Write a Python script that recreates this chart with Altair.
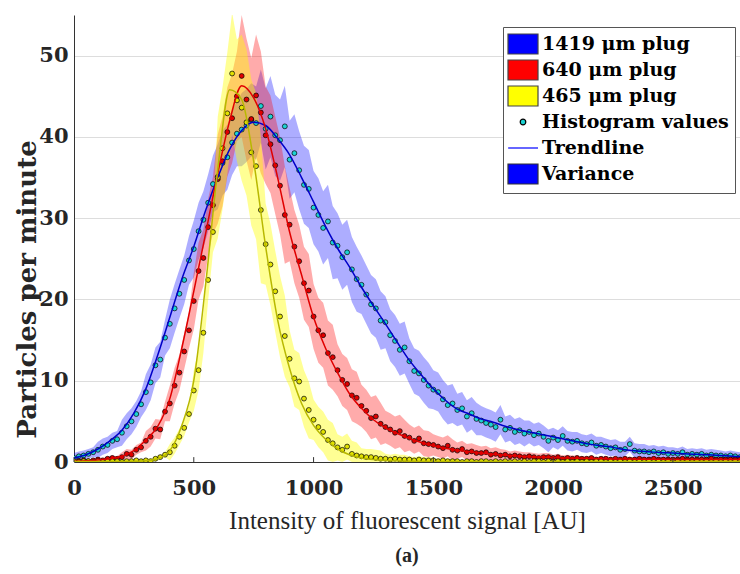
import altair as alt
import pandas as pd

# ---------------- data ----------------
x_hist = list(range(0, 2800, 20))      # histogram bins (AU)
x_trend = list(range(0, 2801, 50))     # trendline sample positions (AU)
x_spread = list(range(0, 2801, 100))   # variance half-width sample positions (AU)

blue_hist = [
    0.5, 0.7, 0.8, 1.0, 1.2,   1.5, 1.9, 2.1, 2.6, 2.8,
    3.6, 4.4, 5.0, 5.9, 7.1,   8.6, 9.8, 11.9, 12.6, 15.3,
    17.0, 18.9, 20.7, 22.4, 24.8,   26.2, 28.4, 29.8, 31.9, 34.2,
    35.1, 36.8, 37.5, 39.3, 40.4,   40.9, 41.4, 42.1, 41.7, 43.8,
    41.0, 42.5, 40.2, 39.6, 41.3,   37.2, 38.0, 35.9, 34.1, 33.6,
    31.3, 30.4, 28.8, 29.6, 27.0,   26.6, 25.2, 25.8, 23.7, 22.5,
    21.8, 20.6, 19.4, 18.9, 17.4,   17.2, 15.6, 14.9, 13.8, 14.1,
    12.4, 11.2, 10.9, 10.1, 9.4,    8.9, 8.6, 7.7, 7.0, 7.2,
    6.4, 6.6, 5.6, 6.0, 5.3,        5.1, 4.8, 4.6, 4.3, 5.2,
    4.0, 4.2, 3.7, 3.9, 3.5,        3.7, 3.3, 3.5, 3.1, 2.6,
    3.0, 2.7, 3.2, 2.6, 2.5,        2.6, 2.3, 2.2, 2.4, 2.0,
    2.1, 1.9, 1.7, 1.8, 1.5,        1.6, 2.2, 1.4, 1.3, 1.3,
    1.2, 1.3, 1.1, 1.2, 1.0,        1.1, 1.0, 1.2, 0.9, 1.0,
    0.9, 1.0, 0.8, 0.9, 0.8,        0.8, 0.7, 0.8, 0.7, 0.6,
]
red_hist = [
    0.1, 0.1, 0.2, 0.1, 0.2,   0.3, 0.2, 0.4, 0.5, 0.4,
    0.6, 1.0, 0.9, 1.5, 1.8,   2.6, 3.1, 4.1, 4.0, 6.2,
    7.2, 9.4, 11.0, 13.6, 16.2,   19.8, 23.5, 25.1, 28.9, 31.6,
    34.8, 37.0, 40.6, 42.3, 45.0,   47.5, 44.6, 42.2, 45.1, 43.0,
    40.2, 39.1, 36.5, 34.0, 30.4,   29.2, 26.5, 24.7, 22.0, 21.1,
    17.9, 16.2, 15.6, 13.4, 12.9,   11.3, 10.1, 9.6, 8.2, 7.9,
    6.9, 6.3, 5.4, 5.6, 4.7,        4.3, 4.0, 3.6, 3.8, 3.2,
    3.0, 2.6, 2.9, 2.3, 2.2,        2.1, 1.9, 1.7, 2.0, 1.5,
    1.4, 1.6, 1.2, 1.3, 1.1,        1.1, 1.2, 0.9, 1.0, 0.8,
    0.9, 0.7, 0.8, 0.7, 0.6,        0.7, 0.6, 0.5, 0.6, 0.6,
    0.5, 0.6, 0.4, 0.5, 0.4,        0.5, 0.4, 0.4, 0.5, 0.3,
    0.4, 0.4, 0.3, 0.4, 0.3,        0.4, 0.3, 0.3, 0.4, 0.3,
    0.3, 0.4, 0.3, 0.3, 0.3,        0.3, 0.3, 0.4, 0.3, 0.3,
    0.3, 0.3, 0.3, 0.4, 0.3,        0.3, 0.3, 0.3, 0.3, 0.3,
]
yellow_hist = [
    0.1, 0.0, 0.1, 0.1, 0.0,   0.1, 0.0, 0.1, 0.1, 0.1,
    0.0, 0.1, 0.1, 0.2, 0.1,   0.2, 0.1, 0.4, 0.6, 0.9,
    1.2, 2.0, 3.1, 4.2, 5.9,   8.8, 11.3, 15.9, 22.4, 28.3,
    35.0, 38.6, 42.9, 47.8, 44.5,   43.6, 41.8, 38.1, 36.4, 31.0,
    26.8, 24.3, 21.0, 17.9, 15.5,   12.7, 10.3, 9.9, 7.8, 6.4,
    5.2, 4.3, 3.7, 2.7, 2.3,   1.8, 1.5, 1.9, 1.0, 0.8,
    0.7, 0.6, 0.6, 0.5, 0.4,   0.4, 0.3, 0.4, 0.3, 0.3,
    0.3, 0.2, 0.3, 0.2, 0.2,   0.2, 0.1, 0.2, 0.1, 0.1,
    0.1, 0.0, 0.1, 0.1, 0.0,   0.1, 0.1, 0.0, 0.1, 0.0,
    0.1, 0.0, 0.1, 0.0, 0.1,   0.0, 0.1, 0.1, 0.0, 0.1,
    0.0, 0.1, 0.0, 0.1, 0.0,   0.1, 0.0, 0.1, 0.0, 0.1,
    0.1, 0.0, 0.1, 0.0, 0.1,   0.0, 0.1, 0.0, 0.1, 0.0,
    0.1, 0.0, 0.1, 0.0, 0.1,   0.0, 0.1, 0.0, 0.1, 0.0,
    0.1, 0.0, 0.1, 0.0, 0.1,   0.0, 0.1, 0.0, 0.1, 0.0,
]

blue_trend = [
    0.5, 0.9, 1.6, 2.6, 3.9, 6.0, 9.0, 13.2, 17.8, 22.5,
    26.5, 31.0, 35.0, 38.5, 40.8, 41.8, 41.4, 39.8, 37.8, 35.0,
    32.0, 29.0, 26.3, 24.0, 21.5, 19.2, 17.0, 14.7, 12.5, 10.7,
    9.0, 7.6, 6.5, 5.9, 5.3, 4.9, 4.4, 4.0, 3.7, 3.4,
    3.1, 2.8, 2.5, 2.2, 2.0, 1.8, 1.5, 1.35, 1.25, 1.15,
    1.1, 1.0, 0.95, 0.9, 0.8, 0.7, 0.65,
]
red_trend = [
    0.1, 0.15, 0.25, 0.4, 0.7, 1.4, 2.7, 4.4, 7.8, 14.0,
    21.0, 28.2, 35.5, 42.0, 46.3, 44.8, 41.0, 35.0, 28.3, 23.0,
    17.8, 14.0, 11.0, 8.4, 6.6, 5.2, 4.2, 3.5, 2.9, 2.4,
    2.0, 1.7, 1.45, 1.25, 1.1, 0.95, 0.85, 0.75, 0.65, 0.6,
    0.55, 0.5, 0.45, 0.42, 0.4, 0.38, 0.36, 0.35, 0.34, 0.33,
    0.32, 0.31, 0.3, 0.3, 0.3, 0.3, 0.3,
]
yellow_trend = [
    0.05, 0.05, 0.05, 0.05, 0.05, 0.08, 0.15, 0.4, 1.4, 4.5,
    10.0, 22.0, 36.0, 45.8, 44.6, 37.0, 26.5, 17.5, 11.5, 7.2,
    4.5, 2.8, 1.6, 0.9, 0.5, 0.3, 0.2, 0.15, 0.1, 0.05,
    0.05, 0.05, 0.05, 0.05, 0.05, 0.05, 0.05, 0.05, 0.05, 0.05,
    0.05, 0.05, 0.05, 0.05, 0.05, 0.05, 0.05, 0.05, 0.05, 0.05,
    0.05, 0.05, 0.05, 0.05, 0.05, 0.05, 0.05,
]

# variance half-width per 100 AU
blue_spread = [0.6, 1.0, 1.6, 2.2, 3.0, 3.5, 4.0, 4.5, 5.0, 4.8, 4.5, 4.0, 3.6, 3.2, 2.8,
               2.4, 2.0, 1.8, 1.6, 1.4, 1.2, 1.1, 1.0, 0.9, 0.8, 0.7, 0.7, 0.6, 0.6]
red_spread = [0.2, 0.3, 0.6, 1.2, 2.2, 3.5, 5.5, 7.5, 6.0, 4.5, 4.0, 3.2, 2.6, 2.0, 1.6,
              1.3, 1.0, 0.8, 0.6, 0.5, 0.4, 0.3, 0.3, 0.3, 0.3, 0.3, 0.3, 0.3, 0.3]
yellow_spread = [0.1, 0.1, 0.1, 0.3, 1.0, 2.5, 7.5, 9.0, 5.0, 3.5, 2.5, 1.6, 1.0, 0.6, 0.4,
                 0.3, 0.2, 0.2, 0.2, 0.2, 0.2, 0.2, 0.2, 0.2, 0.2, 0.2, 0.2, 0.2, 0.2]

x_ticks = [0, 500, 1000, 1500, 2000, 2500]
y_ticks = [0, 10, 20, 30, 40, 50]

legend_labels = ["1419 μm plug", "640 μm plug", "465 μm plug",
                 "Histogram values", "Trendline", "Variance"]

# ---------------- styles ----------------
series = [
    # name, hist, trend, spread, band colour, band opacity, point fill, line colour
    ("1419", blue_hist, blue_trend, blue_spread, "#0000ff", 0.32, "#1cd2d2", "#0000c8"),
    ("640", red_hist, red_trend, red_spread, "#ff0000", 0.33, "#e00000", "#e00000"),
    ("465", yellow_hist, yellow_trend, yellow_spread, "#ffff00", 0.42, "#e2e200", "#b8b800"),
]

X_DOMAIN = [0, 2780]
Y_DOMAIN = [0, 55]
xs = alt.Scale(domain=X_DOMAIN, nice=False, zero=False)
ys = alt.Scale(domain=Y_DOMAIN, nice=False)

x_axis = alt.Axis(values=x_ticks, format="d", title="Intensity of fluorescent signal [AU]",
                  grid=False, ticks=False, labelPadding=15, labelFont="DejaVu Serif",
                  labelFontWeight="bold", labelFontSize=21, labelColor="#262626",
                  titleFont="Liberation Serif", titleFontWeight="normal", titleFontSize=25,
                  titleColor="#262626", titlePadding=10, domainColor="#333333",
                  labelFlush=False)
y_axis = alt.Axis(values=y_ticks, format="d", title="Particles per minute", grid=True,
                  gridColor="#dddddd", ticks=False, labelPadding=6, labelFont="DejaVu Serif",
                  labelFontWeight="bold", labelFontSize=21, labelColor="#262626",
                  titleFont="DejaVu Serif", titleFontWeight="bold", titleFontSize=26,
                  titleColor="#262626", titleX=-47, titleY=274, titleBaseline="middle",
                  domainColor="#333333")

band_layers, point_layers, line_layers = [], [], []
for name, hist, trend, spread, bcol, bop, pcol, lcol in series:
    df = pd.DataFrame({"x": x_hist, "v": hist})
    hw = [spread[int(x // 100)] for x in x_hist]
    df["lo"] = [max(v - h, 0) for v, h in zip(hist, hw)]
    df["hi"] = [v + h for v, h in zip(hist, hw)]
    dt = pd.DataFrame({"x": x_trend, "v": trend})
    band_layers.append(
        alt.Chart(df).mark_area(color=bcol, opacity=bop, clip=True).encode(
            x=alt.X("x:Q", scale=xs, axis=x_axis),
            y=alt.Y("lo:Q", scale=ys, axis=y_axis),
            y2="hi:Q",
        )
    )
    point_layers.append(
        alt.Chart(df).mark_circle(size=24, color=pcol, opacity=1, stroke="black",
                                  strokeWidth=0.7, clip=True).encode(
            x=alt.X("x:Q", scale=xs), y=alt.Y("v:Q", scale=ys)
        )
    )
    line_layers.append(
        alt.Chart(dt).mark_line(color=lcol, strokeWidth=1.5, interpolate="monotone",
                                clip=True).encode(
            x=alt.X("x:Q", scale=xs), y=alt.Y("v:Q", scale=ys)
        )
    )

# inward x-axis ticks
tick_df = pd.DataFrame({"t": x_ticks})
ticks = alt.Chart(tick_df).mark_rule(color="#333333", strokeWidth=1).encode(
    x=alt.X("t:Q", scale=xs), y=alt.datum(0), y2=alt.datum(0.6)
)

# legend (built from a layer with no visible marks)
pad = "M-1.5,-1L-1.5,-1M1.5,1L1.5,1"   # invisible corners: equal bounds for all symbols
rect = "M-1.5,-1H1.5V1H-1.5Z"
dot = "M-0.28,0A0.28,0.28,0,1,0,0.28,0A0.28,0.28,0,1,0,-0.28,0Z" + pad
line = "M-1.5,0H1.5" + pad
leg = alt.Legend(title=None, orient="none", legendX=429, legendY=12, padding=6,
                 rowPadding=0, symbolSize=400, symbolStrokeWidth=1.2, symbolOffset=3,
                 labelOffset=8, labelFont="DejaVu Serif", labelFontWeight="bold",
                 labelFontSize=19, labelColor="black", labelLimit=0, fillColor="white",
                 strokeColor="#555555", symbolOpacity=1)
leg_df = pd.DataFrame({"leg": legend_labels, "x": [0] * 6, "y": [0] * 6})
legend_layer = alt.Chart(leg_df).mark_point(filled=True, opacity=1).encode(
    x=alt.X("x:Q", scale=xs), y=alt.Y("y:Q", scale=ys),
    fill=alt.Fill("leg:N", legend=leg, scale=alt.Scale(
        domain=legend_labels,
        range=["#0000ff", "#ff0000", "#ffff00", "#1cd2d2", "transparent", "#0000ff"])),
    stroke=alt.Stroke("leg:N", legend=leg, scale=alt.Scale(
        domain=legend_labels,
        range=["#444444", "#444444", "#444444", "#000000", "#0000ff", "#333333"])),
    shape=alt.Shape("leg:N", legend=leg, scale=alt.Scale(
        domain=legend_labels, range=[rect, rect, rect, dot, line, rect])),
).transform_filter("false")

chart = alt.layer(
    *band_layers, *point_layers, *line_layers, ticks, legend_layer
).properties(
    width=666, height=447,
    padding={"left": 74, "top": 15, "right": 0, "bottom": 112},
    autosize=alt.AutoSizeParams(type="none"),
    title=alt.TitleParams(text="(a)", orient="bottom", anchor="middle", font="Liberation Serif",
                          fontSize=20, fontWeight="bold", color="#262626", offset=13),
).configure_view(stroke=None)

chart.save("out.html", embed_options={"renderer": "svg", "actions": False})
